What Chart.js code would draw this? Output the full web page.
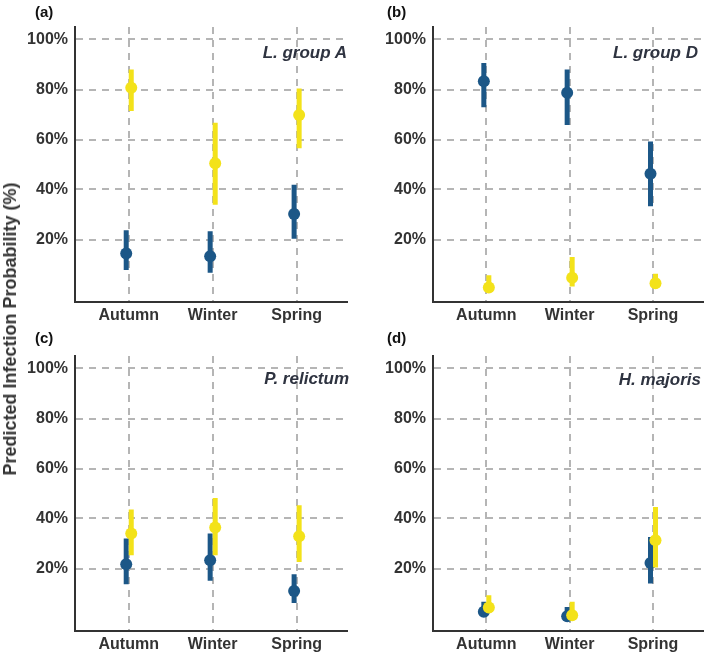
<!DOCTYPE html>
<html lang="en">
<head>
<meta charset="UTF-8">
<title>Predicted infection probability by season</title>
<script src="https://cdn.jsdelivr.net/npm/chart.js@4.4.0/dist/chart.umd.min.js"></script>
<style>
    body {
        margin: 0;
        background: white;
        font-family: "Liberation Sans", Arial, sans-serif;
    }
    #fig {
        position: relative;
        width: 709px;
        height: 652px;
        overflow: hidden;
    }
    .panel {
        position: absolute;
    }
    .txt {
        position: absolute;
        white-space: nowrap;
        line-height: 1;
        font-weight: bold;
    }
    .tag {
        font-size: 15px;
        color: #111;
        transform: translateY(-50%);
    }
    .sp {
        font-size: 17px;
        font-style: italic;
        color: #2e3340;
        transform: translate(-100%, -50%);
    }
    #ytitle {
        font-size: 18px;
        color: #333;
        transform: translate(-50%, -50%) rotate(-90deg);
    }
</style>
</head>
<body>
<div id="fig">
    <div class="txt" id="ytitle" style="left:10px; top:329px">Predicted Infection Probability (%)</div>
</div>

<script>
    // data (percent)
    const seasons = ['Autumn', 'Winter', 'Spring'];
    const panelTags = ['(a)', '(b)', '(c)', '(d)'];
    const parasites = ['L. group A', 'L. group D', 'P. relictum', 'H. majoris'];
    const yTicks = [20, 40, 60, 80, 100];

    const blueEst  = [[14.4, 13.3, 30.2], [83.3, 78.7, 46.3], [21.7, 23.3, 11.0], [2.7, 0.9, 22.2]];
    const blueLow  = [[7.8, 6.7, 20.3], [72.9, 65.8, 33.3], [13.7, 15.1, 6.2], [0.7, 0.2, 14.0]];
    const blueHigh = [[23.7, 23.3, 41.9], [90.6, 88.0, 59.2], [32.0, 34.0, 17.7], [6.7, 4.6, 32.6]];

    const yellowEst  = [[80.7, 50.5, 69.8], [0.8, 4.7, 2.5], [34.0, 36.4, 32.9], [4.4, 1.3, 31.3]];
    const yellowLow  = [[71.4, 33.9, 56.5], [0.0, 1.2, 0.5], [25.3, 25.3, 22.6], [2.2, 0.3, 20.4]];
    const yellowHigh = [[88.0, 66.7, 80.4], [5.7, 13.0, 6.3], [43.6, 48.2, 45.3], [9.3, 6.7, 44.6]];

    const BLUE = '#1c5787';
    const YELLOW = '#f3e21a';
    const DODGE = 0.03;

    // panel boxes: container pos/size, plot area inside it, label spots
    const boxes = [
        {left: 0,   top: 0,   w: 354, h: 326, yw: 75, padTop: 27, padRight: 7, xh: 24, tag: [35, 11],  sp: [347, 52]},
        {left: 354, top: 0,   w: 355, h: 326, yw: 79, padTop: 27, padRight: 4, xh: 24, tag: [387, 11], sp: [698, 52]},
        {left: 0,   top: 326, w: 354, h: 326, yw: 75, padTop: 30, padRight: 7, xh: 21, tag: [35, 337], sp: [349, 378]},
        {left: 354, top: 326, w: 355, h: 326, yw: 79, padTop: 30, padRight: 4, xh: 21, tag: [387, 337], sp: [701, 379]}
    ];

    function points(est, shift) {
        return seasons.map((s, i) => ({x: i + shift, y: est[i]}));
    }

    function ranges(low, high, shift) {
        const out = [];
        seasons.forEach((s, i) => {
            out.push({x: i + shift, y: low[i]});
            out.push({x: i + shift, y: high[i]});
            out.push({x: i + shift, y: null});
        });
        return out;
    }

    const fig = document.getElementById('fig');
    Chart.defaults.font.family = '"Liberation Sans", Arial, sans-serif';

    boxes.forEach((b, p) => {
        const wrap = document.createElement('div');
        wrap.className = 'panel';
        wrap.style.left = b.left + 'px';
        wrap.style.top = b.top + 'px';
        const cv = document.createElement('canvas');
        cv.width = b.w;
        cv.height = b.h;
        wrap.appendChild(cv);
        fig.insertBefore(wrap, fig.firstChild);

        const tag = document.createElement('div');
        tag.className = 'txt tag';
        tag.style.left = b.tag[0] + 'px';
        tag.style.top = b.tag[1] + 'px';
        tag.textContent = panelTags[p];
        fig.appendChild(tag);

        const sp = document.createElement('div');
        sp.className = 'txt sp';
        sp.style.left = b.sp[0] + 'px';
        sp.style.top = b.sp[1] + 'px';
        sp.textContent = parasites[p];
        fig.appendChild(sp);

        new Chart(cv, {
            type: 'scatter',
            data: {
                datasets: [{
                    label: 'yellow',
                    data: points(yellowEst[p], DODGE),
                    backgroundColor: YELLOW,
                    borderWidth: 0,
                    pointRadius: 6
                }, {
                    type: 'line',
                    label: 'yellow range',
                    data: ranges(yellowLow[p], yellowHigh[p], DODGE),
                    borderColor: YELLOW,
                    borderWidth: 5,
                    borderCapStyle: 'butt',
                    pointRadius: 0,
                    spanGaps: false
                }, {
                    label: 'blue',
                    data: points(blueEst[p], -DODGE),
                    backgroundColor: BLUE,
                    borderWidth: 0,
                    pointRadius: 6
                }, {
                    type: 'line',
                    label: 'blue range',
                    data: ranges(blueLow[p], blueHigh[p], -DODGE),
                    borderColor: BLUE,
                    borderWidth: 5,
                    borderCapStyle: 'butt',
                    pointRadius: 0,
                    spanGaps: false
                }]
            },
            options: {
                responsive: false,
                animation: false,
                events: [],
                layout: {
                    padding: {left: 0, right: b.padRight, top: b.padTop, bottom: 0}
                },
                plugins: {
                    legend: {display: false},
                    tooltip: {enabled: false}
                },
                scales: {
                    x: {
                        type: 'linear',
                        min: -0.64,
                        max: 2.6,
                        afterBuildTicks: s => { s.ticks = seasons.map((n, i) => ({value: i})); },
                        afterFit: s => { s.height = b.xh; },
                        ticks: {
                            callback: v => seasons[v],
                            color: '#333',
                            font: {size: 16, weight: 'bold'},
                            padding: 4,
                            maxRotation: 0
                        },
                        grid: {color: '#b5b5b5', lineWidth: 2, drawTicks: false},
                        border: {display: true, color: '#333', width: 2, dash: [7, 6]}
                    },
                    y: {
                        min: -5,
                        max: 105,
                        afterBuildTicks: s => { s.ticks = yTicks.map(v => ({value: v})); },
                        afterFit: s => { s.width = b.yw; },
                        ticks: {
                            callback: v => v + '%',
                            color: '#333',
                            font: {size: 16, weight: 'bold'},
                            padding: 7
                        },
                        grid: {color: '#b5b5b5', lineWidth: 2, drawTicks: false},
                        border: {display: true, color: '#333', width: 2, dash: [7, 6]}
                    }
                }
            }
        });
    });
</script>
</body>
</html>
